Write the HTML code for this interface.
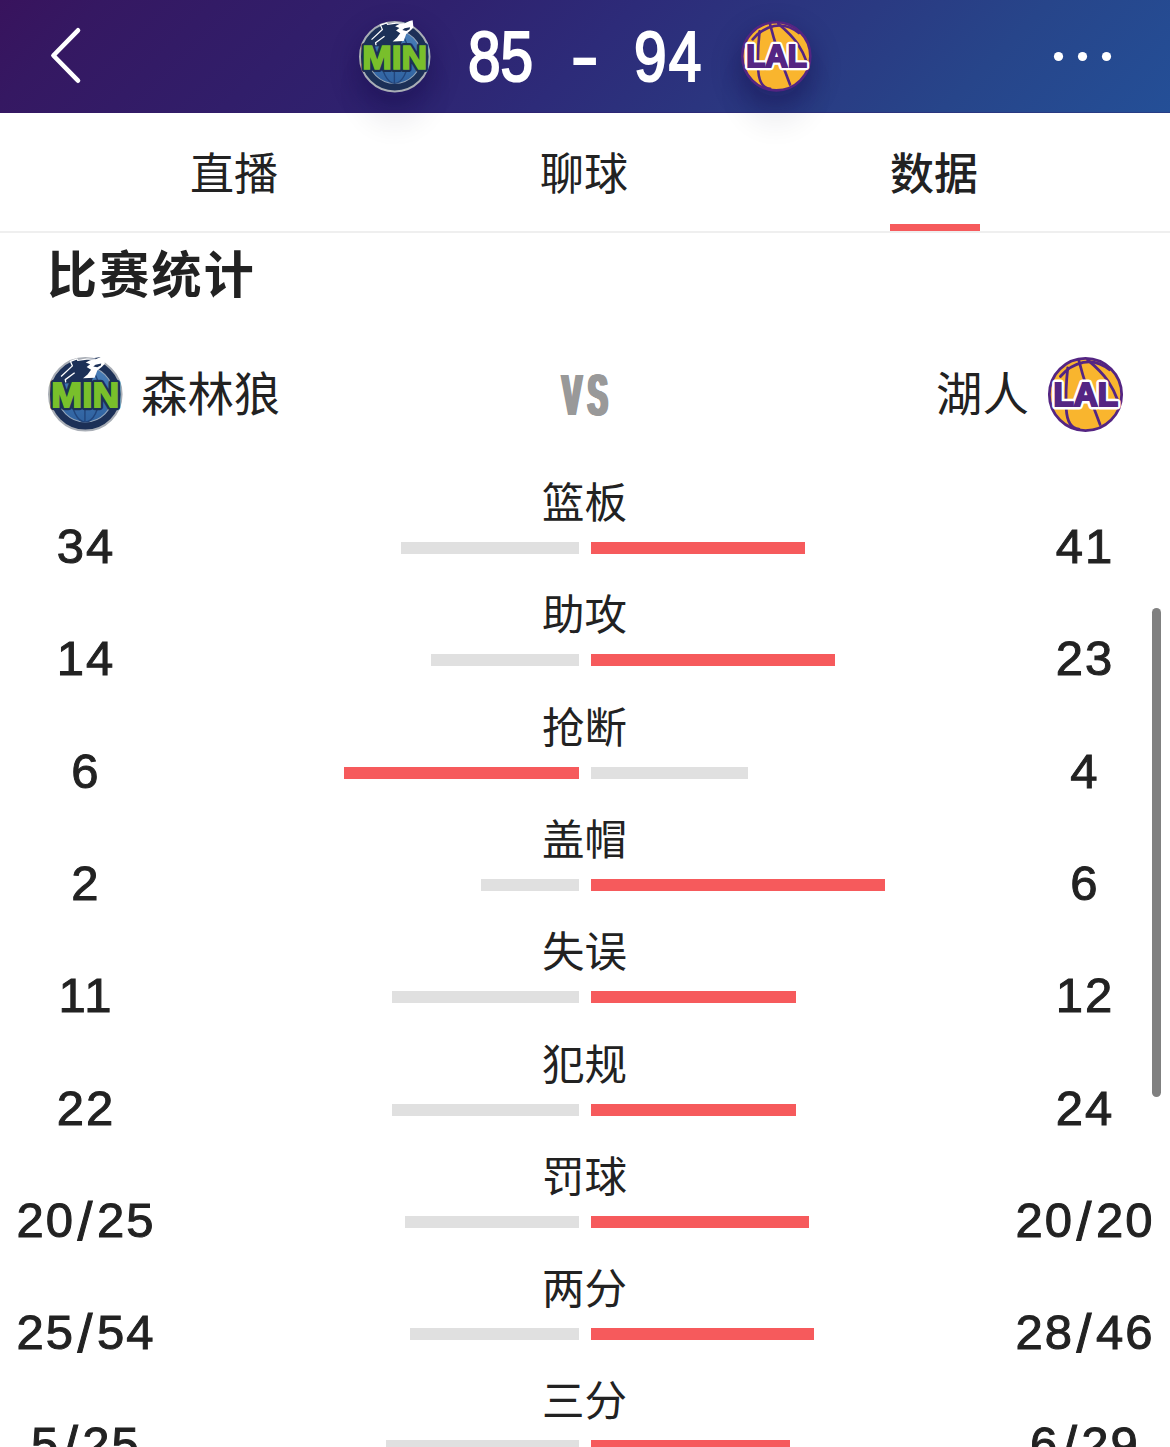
<!DOCTYPE html>
<html lang="zh"><head><meta charset="utf-8"><title>85 - 94</title>
<style>
html,body{margin:0;padding:0;background:#fff}
body{width:1170px;height:1447px;overflow:hidden}
#p{width:1170px;height:1447px;position:relative;overflow:hidden;background:#fff;font-family:"Liberation Sans",sans-serif;color:#222}
.hdr{overflow:hidden;position:absolute;left:0;top:0;width:1170px;height:112px;border-bottom:1px solid rgba(46,34,112,.3);background:linear-gradient(135deg,#38135d 0%,#351862 8%,#2f216e 35%,#2d2b79 50%,#2a3a82 69%,#27458a 82%,#244f97 100%)}
.cj{position:absolute;display:block;overflow:hidden;line-height:1;white-space:nowrap}
.cj svg{position:absolute;left:0;top:0;display:block}
.cj text{font-family:"Liberation Sans","Noto Sans CJK SC",sans-serif;font-size:1000px;fill:#222}
.bar{position:absolute;height:12px}
.num{position:absolute;width:200px;text-align:center;font-size:49px;line-height:60px;height:60px;letter-spacing:2px;-webkit-text-stroke:1px #222;color:#222;white-space:nowrap}
.num i{font-style:normal;margin:0 2.5px;font-size:1.1em;line-height:0;position:relative;top:2.8px}
.score{position:absolute;top:15.2px;height:84px;line-height:84px;font-size:70px;font-weight:normal;-webkit-text-stroke:2.2px #fff;color:#fff;white-space:nowrap;transform-origin:0 50%;transform:scaleX(.838)}
.dash{position:absolute;top:14px;height:84px;line-height:84px;font-size:61px;font-weight:bold;color:#fff;white-space:nowrap;transform-origin:0 50%;transform:scaleX(1.45)}
.vs{position:absolute;left:562.2px;top:361.5px;font-size:57.5px;line-height:66px;font-weight:bold;color:#999;letter-spacing:11px;transform-origin:0 50%;transform:scaleX(.52);white-space:nowrap;text-shadow:-1.1px 0 #999,1.1px 0 #999,-2.2px 0 #999,2.2px 0 #999,-3.3px 0 #999,3.3px 0 #999}
.ul{position:absolute;left:890px;top:224px;width:90px;height:7px;background:#f65a5c}
.sep{position:absolute;left:0;top:231px;width:1170px;height:2px;background:#efefef}
.sb{position:absolute;left:1152px;top:608px;width:9px;height:489px;border-radius:4.5px;background:#808080}
.sh2{position:absolute;top:30px;width:60px;height:60px;border-radius:50%;box-shadow:0 8px 26px 8px rgba(18,8,70,.38)}
.sh{position:absolute;top:36px;width:60px;height:60px;border-radius:50%;box-shadow:0 24px 26px 8px rgba(10,10,50,.055)}
.ic{position:absolute;display:block;overflow:visible}
</style></head><body><div id="p">
<div class="hdr"><div class="sh2" style="left:365px"></div><div class="sh2" style="left:746px"></div></div>
<div class="sh" style="left:365px"></div><div class="sh" style="left:746px"></div>
<svg class="ic" style="left:40px;top:20px" width="50" height="72" viewBox="40 20 50 72"><polyline points="78,30.3 53.4,55.5 78,80.7" fill="none" stroke="#fff" stroke-width="4.6" stroke-linecap="round" stroke-linejoin="round"/></svg>
<div class="score" style="left:467.8px">85</div>
<div class="dash" style="left:569.6px">-</div>
<div class="score" style="left:633.9px;letter-spacing:2.5px">94</div>
<svg class="ic" style="left:1040px;top:40px" width="90" height="34" viewBox="1040 40 90 34"><circle cx="1058.5" cy="56.5" r="4.6" fill="#fff"/><circle cx="1082.5" cy="56.5" r="4.6" fill="#fff"/><circle cx="1106.5" cy="56.5" r="4.6" fill="#fff"/></svg>
<svg width="0" height="0" style="position:absolute"><defs>
<linearGradient id="mg" x1="0" y1="0" x2="0" y2="1"><stop offset="0" stop-color="#4a7fb8"/><stop offset="1" stop-color="#2f62a0"/></linearGradient>
<symbol id="min" viewBox="0 0 100 100" overflow="visible">
<circle cx="50" cy="50" r="48.6" fill="#1c3057" stroke="#a9aeb6" stroke-width="2.8"/>
<circle cx="50" cy="50" r="37.2" fill="url(#mg)" stroke="#93a5ba" stroke-width="1.4"/>
<g fill="none" stroke="#21457c" stroke-width="1.9"><path d="M49.5,13V87"/><ellipse cx="50" cy="50" rx="19" ry="37"/><path d="M13,50H87"/></g>
<path fill="#1c3057" d="M14,31 17.5,26.1 32.7,11.9 30.1,5.8 38.7,2.7 39.9,4.6 51.8,3 70.8,0 66,12 58,34 14,36Z"/>
<path fill="none" stroke="#fff" stroke-width="1.7" d="M17.5,26.1 32.7,11.9 30.1,5.8 38.7,2.7 39.9,4.6 51.8,3 63.7,3"/>
<path fill="#fff" d="M75,-1.2 76.2,9.1 72,13.3 66.1,18.2 62.5,27.9 47,28.5 53,23.6 57.7,17 51.8,13.3 56.5,9.7 50.6,7.3 56.5,4.2 63.7,3 70.8,0Z"/>
<path fill="#1c3057" d="M60.7,12.7 63.7,10.3 71.4,8.7 70.8,11.5 66.1,13.9Z"/>
<path fill="none" stroke="#fff" stroke-width="1.8" d="M23.8,33.9 23.2,30.3 35.7,21.2"/>
<text x="50" y="66.7" text-anchor="middle" font-family="Liberation Sans,sans-serif" font-weight="bold" font-size="47.5" textLength="91" lengthAdjust="spacingAndGlyphs" fill="#79bf2b" stroke="#1c3057" stroke-width="8.6" stroke-linejoin="round" paint-order="stroke">MIN</text>
<text x="50" y="66.7" text-anchor="middle" font-family="Liberation Sans,sans-serif" font-weight="bold" font-size="47.5" textLength="91" lengthAdjust="spacingAndGlyphs" fill="#79bf2b" stroke="#79bf2b" stroke-width="2.4">MIN</text>
</symbol>
<symbol id="lal" viewBox="0 0 100 100" overflow="visible">
<circle cx="50" cy="50" r="48.2" fill="#f9b52e" stroke="#542583" stroke-width="3.7"/>
<g fill="none" stroke="#542583" stroke-width="3.7" stroke-linecap="round">
<path d="M16.5,26Q29,11 47,7.2T82,17"/>
<path d="M41,4Q50,40 69.4,90"/>
<path d="M52.8,3.8Q72,20 80,32T93.5,59"/>
<path d="M26.3,14.5Q23,45 24.4,69.8T41.3,96.2"/>
</g>
<text x="50.4" y="64.8" text-anchor="middle" font-family="Liberation Sans,sans-serif" font-weight="bold" font-size="44" textLength="86" lengthAdjust="spacingAndGlyphs" fill="#542583" stroke="#fff" stroke-width="9.4" stroke-linejoin="round" paint-order="stroke">LAL</text>
<text x="50.4" y="64.8" text-anchor="middle" font-family="Liberation Sans,sans-serif" font-weight="bold" font-size="44" textLength="86" lengthAdjust="spacingAndGlyphs" fill="#542583" stroke="#542583" stroke-width="2.8">LAL</text>
</symbol>
</defs></svg>
<svg class="ic" style="left:47.5px;top:357.2px" width="74.6" height="74.6"><use href="#min"/></svg>
<svg class="ic" style="left:1048px;top:357.2px" width="75" height="75"><use href="#lal"/></svg>
<svg class="ic lg" style="left:359.2px;top:20.8px" width="71.5" height="71.5"><use href="#min"/></svg>
<svg class="ic lg" style="left:740.7px;top:20.9px" width="70.6" height="70.6"><use href="#lal"/></svg>
<div class="sep"></div><div class="ul"></div>
<div class="vs">VS</div>
<div class="sb"></div>
<span class="cj" style="left:190.3px;top:150.9px;width:88.0px;height:44.0px;font-size:35px"><svg viewBox="0 -880 2000.0 1000" width="88.0" height="44.0"><text x="0" y="0">直播</text></svg></span>
<span class="cj" style="left:540.2px;top:150.9px;width:88.0px;height:44.0px;font-size:35px"><svg viewBox="0 -880 2000.0 1000" width="88.0" height="44.0"><text x="0" y="0">聊球</text></svg></span>
<span class="cj" style="left:890.4px;top:150.9px;width:88.0px;height:44.0px;font-size:35px"><svg viewBox="0 -880 2000.0 1000" width="88.0" height="44.0"><text x="0" y="0" font-weight="500">数据</text></svg></span>
<span class="cj" style="left:46.8px;top:248.6px;width:209.0px;height:50.0px;font-size:40px"><svg viewBox="0 -880 4180.0 1000" width="209.0" height="50.0"><text x="0" y="0" font-weight="bold" letter-spacing="45">比赛统计</text></svg></span>
<span class="cj" style="left:141.0px;top:369.9px;width:139.2px;height:46.4px;font-size:37px"><svg viewBox="0 -880 3000.0 1000" width="139.2" height="46.4"><text x="0" y="0">森林狼</text></svg></span>
<span class="cj" style="left:936.2px;top:369.9px;width:92.8px;height:46.4px;font-size:37px"><svg viewBox="0 -880 2000.0 1000" width="92.8" height="46.4"><text x="0" y="0">湖人</text></svg></span>
<span class="cj" style="left:542.2px;top:481.0px;width:85.0px;height:42.5px;font-size:34px"><svg viewBox="0 -880 2000.0 1000" width="85.0" height="42.5"><text x="0" y="0">篮板</text></svg></span>
<div class="bar" style="left:401.3px;top:542px;width:177.7px;background:#e0e0e0"></div>
<div class="bar" style="left:591px;top:542px;width:214.3px;background:#f65a5c"></div>
<div class="num" style="left:-14px;top:515.8px">34</div>
<div class="num" style="left:985px;top:515.8px">41</div>
<span class="cj" style="left:542.2px;top:593.0px;width:85.0px;height:42.5px;font-size:34px"><svg viewBox="0 -880 2000.0 1000" width="85.0" height="42.5"><text x="0" y="0">助攻</text></svg></span>
<div class="bar" style="left:430.7px;top:654px;width:148.3px;background:#e0e0e0"></div>
<div class="bar" style="left:591px;top:654px;width:243.7px;background:#f65a5c"></div>
<div class="num" style="left:-14px;top:627.8px">14</div>
<div class="num" style="left:985px;top:627.8px">23</div>
<span class="cj" style="left:542.2px;top:706.0px;width:85.0px;height:42.5px;font-size:34px"><svg viewBox="0 -880 2000.0 1000" width="85.0" height="42.5"><text x="0" y="0">抢断</text></svg></span>
<div class="bar" style="left:343.8px;top:767px;width:235.2px;background:#f65a5c"></div>
<div class="bar" style="left:591px;top:767px;width:156.8px;background:#e0e0e0"></div>
<div class="num" style="left:-14px;top:740.8px">6</div>
<div class="num" style="left:985px;top:740.8px">4</div>
<span class="cj" style="left:542.2px;top:818.0px;width:85.0px;height:42.5px;font-size:34px"><svg viewBox="0 -880 2000.0 1000" width="85.0" height="42.5"><text x="0" y="0">盖帽</text></svg></span>
<div class="bar" style="left:481.0px;top:879px;width:98.0px;background:#e0e0e0"></div>
<div class="bar" style="left:591px;top:879px;width:294.0px;background:#f65a5c"></div>
<div class="num" style="left:-14px;top:852.8px">2</div>
<div class="num" style="left:985px;top:852.8px">6</div>
<span class="cj" style="left:542.2px;top:930.0px;width:85.0px;height:42.5px;font-size:34px"><svg viewBox="0 -880 2000.0 1000" width="85.0" height="42.5"><text x="0" y="0">失误</text></svg></span>
<div class="bar" style="left:391.5px;top:991px;width:187.5px;background:#e0e0e0"></div>
<div class="bar" style="left:591px;top:991px;width:204.5px;background:#f65a5c"></div>
<div class="num" style="left:-14px;top:964.8px">11</div>
<div class="num" style="left:985px;top:964.8px">12</div>
<span class="cj" style="left:542.2px;top:1043.0px;width:85.0px;height:42.5px;font-size:34px"><svg viewBox="0 -880 2000.0 1000" width="85.0" height="42.5"><text x="0" y="0">犯规</text></svg></span>
<div class="bar" style="left:391.5px;top:1104px;width:187.5px;background:#e0e0e0"></div>
<div class="bar" style="left:591px;top:1104px;width:204.5px;background:#f65a5c"></div>
<div class="num" style="left:-14px;top:1077.8px">22</div>
<div class="num" style="left:985px;top:1077.8px">24</div>
<span class="cj" style="left:542.2px;top:1155.0px;width:85.0px;height:42.5px;font-size:34px"><svg viewBox="0 -880 2000.0 1000" width="85.0" height="42.5"><text x="0" y="0">罚球</text></svg></span>
<div class="bar" style="left:404.8px;top:1216px;width:174.2px;background:#e0e0e0"></div>
<div class="bar" style="left:591px;top:1216px;width:217.8px;background:#f65a5c"></div>
<div class="num" style="left:-14px;top:1189.8px">20<i>/</i>25</div>
<div class="num" style="left:985px;top:1189.8px">20<i>/</i>20</div>
<span class="cj" style="left:542.2px;top:1267.0px;width:85.0px;height:42.5px;font-size:34px"><svg viewBox="0 -880 2000.0 1000" width="85.0" height="42.5"><text x="0" y="0">两分</text></svg></span>
<div class="bar" style="left:409.7px;top:1328px;width:169.3px;background:#e0e0e0"></div>
<div class="bar" style="left:591px;top:1328px;width:222.7px;background:#f65a5c"></div>
<div class="num" style="left:-14px;top:1301.8px">25<i>/</i>54</div>
<div class="num" style="left:985px;top:1301.8px">28<i>/</i>46</div>
<span class="cj" style="left:542.2px;top:1379.0px;width:85.0px;height:42.5px;font-size:34px"><svg viewBox="0 -880 2000.0 1000" width="85.0" height="42.5"><text x="0" y="0">三分</text></svg></span>
<div class="bar" style="left:386.3px;top:1440px;width:192.7px;background:#e0e0e0"></div>
<div class="bar" style="left:591px;top:1440px;width:199.3px;background:#f65a5c"></div>
<div class="num" style="left:-14px;top:1413.8px">5<i>/</i>25</div>
<div class="num" style="left:985px;top:1413.8px">6<i>/</i>29</div>
</div></body></html>
